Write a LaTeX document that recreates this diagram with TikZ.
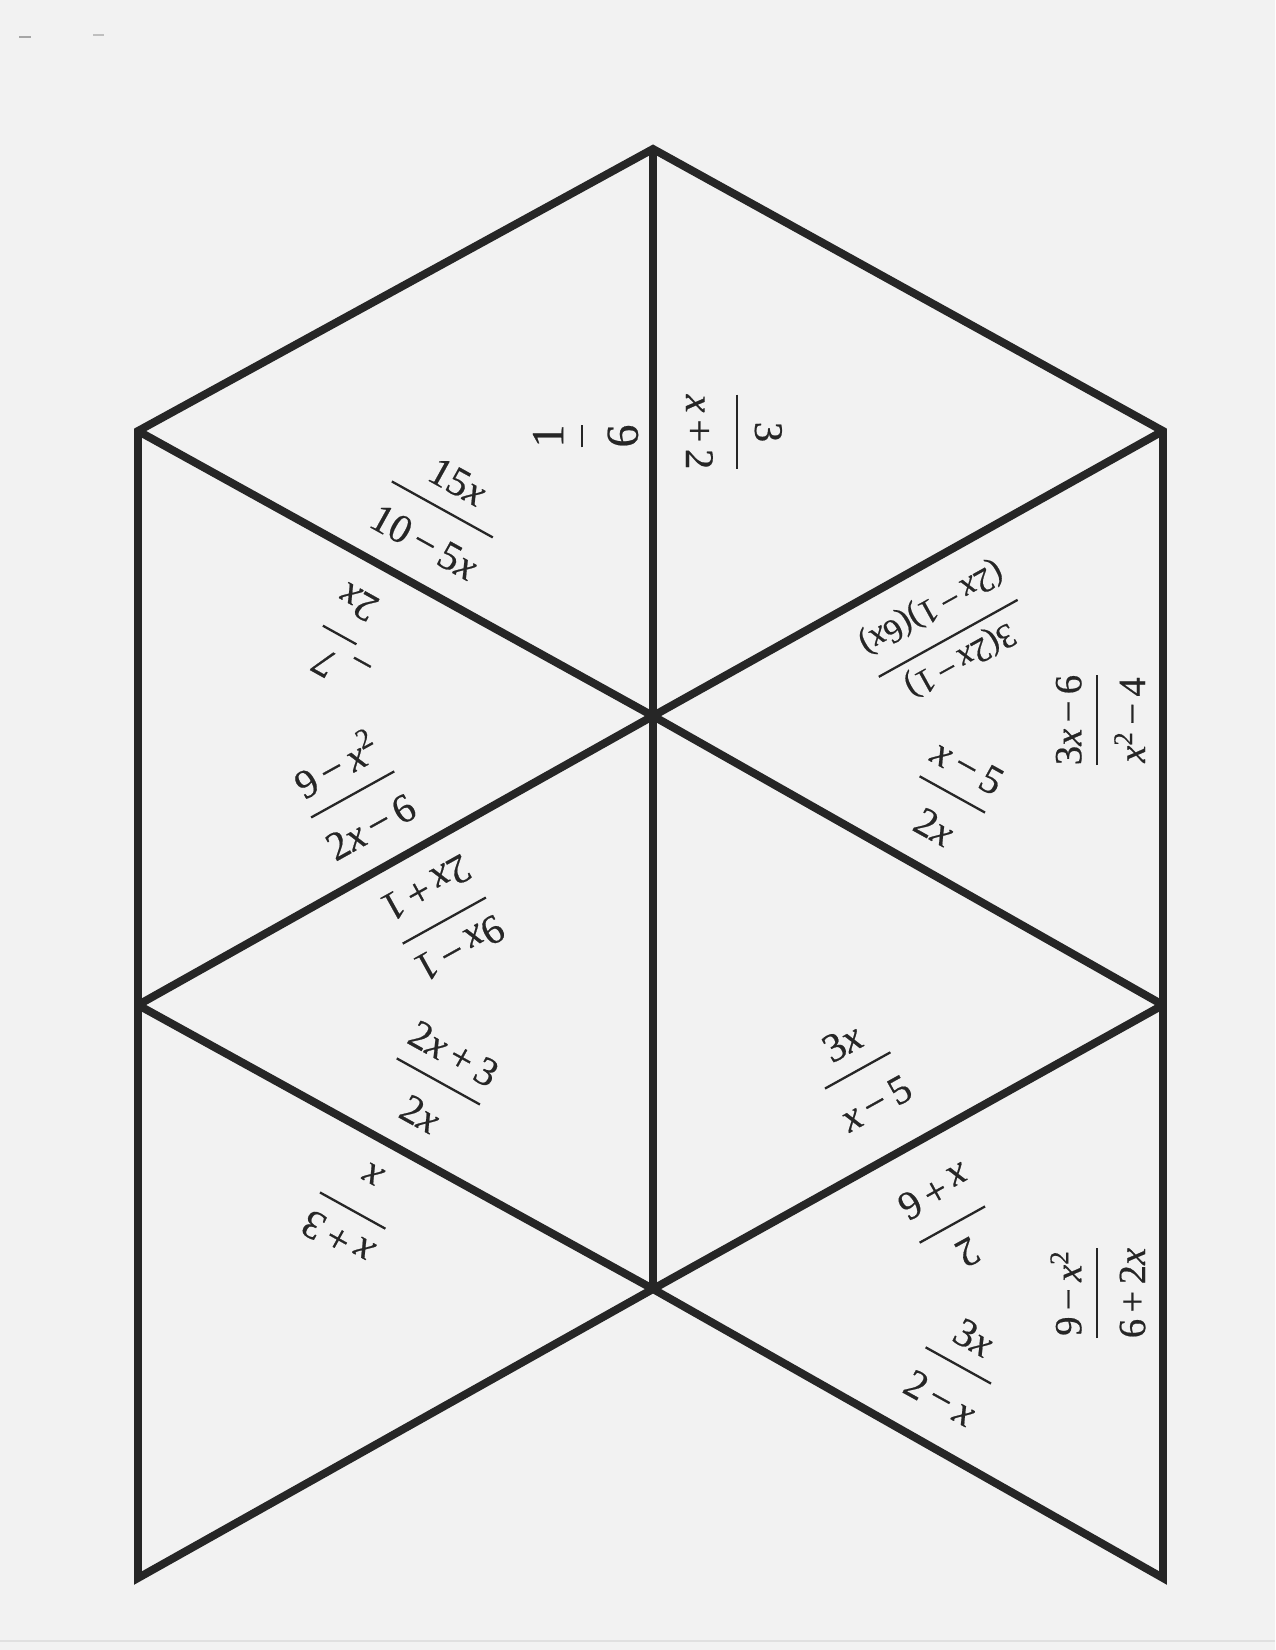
\documentclass[tikz,border=0pt]{standalone}
\usepackage{amsmath}
\usepackage{fontspec}
\setmainfont{Liberation Serif}[FakeBold=0.5]
\usetikzlibrary{calc}
\definecolor{scangray}{rgb}{0.95,0.95,0.95}
\definecolor{inkgray}{rgb}{0.15,0.15,0.15}
\tikzstyle{cut} = [line width=3.8pt, draw=inkgray, line join=miter]
\tikzstyle{expr} = [inner sep=0pt, anchor=base, text=inkgray, font=\fontsize{19.5}{23}\selectfont]
\tikzstyle{exprside} = [expr, font=\fontsize{18.5}{22}\selectfont]
\tikzstyle{exprsmall} = [expr, font=\fontsize{16.5}{20}\selectfont]
\newcommand{\vx}{\textit{x}}
\newcommand{\fr}[2]{\raisebox{-0.25em}{$\genfrac{}{}{1.1pt}{0}{\text{#1}}{\rule{0pt}{1.05em}\text{#2}}$}}

\begin{document}
\begin{tikzpicture}[x=0.48pt,y=-0.48pt]
\fill[scangray] (0,0) rectangle (1275,1650);
\useasboundingbox (0,0) rectangle (1275,1650);
%scan specks
\draw[black!35, line width=0.8pt] (19,37)--(31,37);
\draw[black!25, line width=0.8pt] (93,35)--(104,35);
\draw[black!12, line width=0.6pt] (0,1641)--(1275,1641);
% corners of the sheet
\coordinate (t) at (653,149);
\coordinate (l1) at (138,431);
\coordinate (r1) at (1163,431);
\coordinate (c1) at (653,716);
\coordinate (l2) at (138,1005);
\coordinate (r2) at (1163,1005);
\coordinate (c2) at (653,1289);
\coordinate (l3) at (138,1578);
\coordinate (r3) at (1163,1578);
\draw[cut] (c2)--(l3)--(l1)--(t)--(r1)--(r3)--cycle;
\draw[cut] (t)--(c2);
\draw[cut] (l1)--(c1)--(r1);
\draw[cut] (l2)--(c1)--(r2);
\draw[cut] (l2)--(c2)--(r2);
%left half
\node[expr, rotate=90, font=\fontsize{22}{26}\selectfont] (q1) at (581,436) {\fr{1}{6}};
\node[expr, rotate=-29] (q3) at (442,510) {\fr{15\vx}{10\,−\,5\vx}};
\node[expr, rotate=151] (q4) at (350,640) {−\fr{7}{2\vx}};
\node[expr, rotate=29] (q5) at (353,795) {\fr{9\,−\,\vx\textsuperscript{2}}{2\vx\,−\,6}};
\node[expr, rotate=209] (q6) at (444,920) {\fr{9\vx\,−\,1}{2\vx\,+\,1}};
\node[expr, rotate=-29] (q7) at (438,1082) {\fr{2\vx\,+\,3}{2\vx}};
\node[expr, rotate=151] (q8) at (353,1210) {\fr{\vx\,+\,3}{\vx}};
%right half
\node[expr, rotate=-90] (q2) at (736,432) {\fr{3}{\vx\,+\,2}};
\node[exprsmall, rotate=209] (q9) at (948,638) {\fr{3(2\vx\,−\,1)}{(2\vx\,−\,1)(6\vx)}};
\node[exprside, rotate=90] (q10) at (1096,720) {\fr{3\vx\,−\,6}{\vx\textsuperscript{2}\,−\,4}};
\node[expr, rotate=-29] (q11) at (952,795) {\fr{\vx\,−\,5}{2\vx}};
\node[expr, rotate=29] (q12) at (858,1071) {\fr{3\vx}{\vx\,−\,5}};
\node[expr, rotate=209] (q13) at (952,1224) {\fr{2}{\vx\,+\,6}};
\node[exprside, rotate=90] (q14) at (1096,1293) {\fr{9\,−\,\vx\textsuperscript{2}}{6\,+\,2\vx}};
\node[expr, rotate=-29] (q15) at (958,1366) {\fr{3\vx}{2\,−\,\vx}};
\end{tikzpicture}
\end{document}
